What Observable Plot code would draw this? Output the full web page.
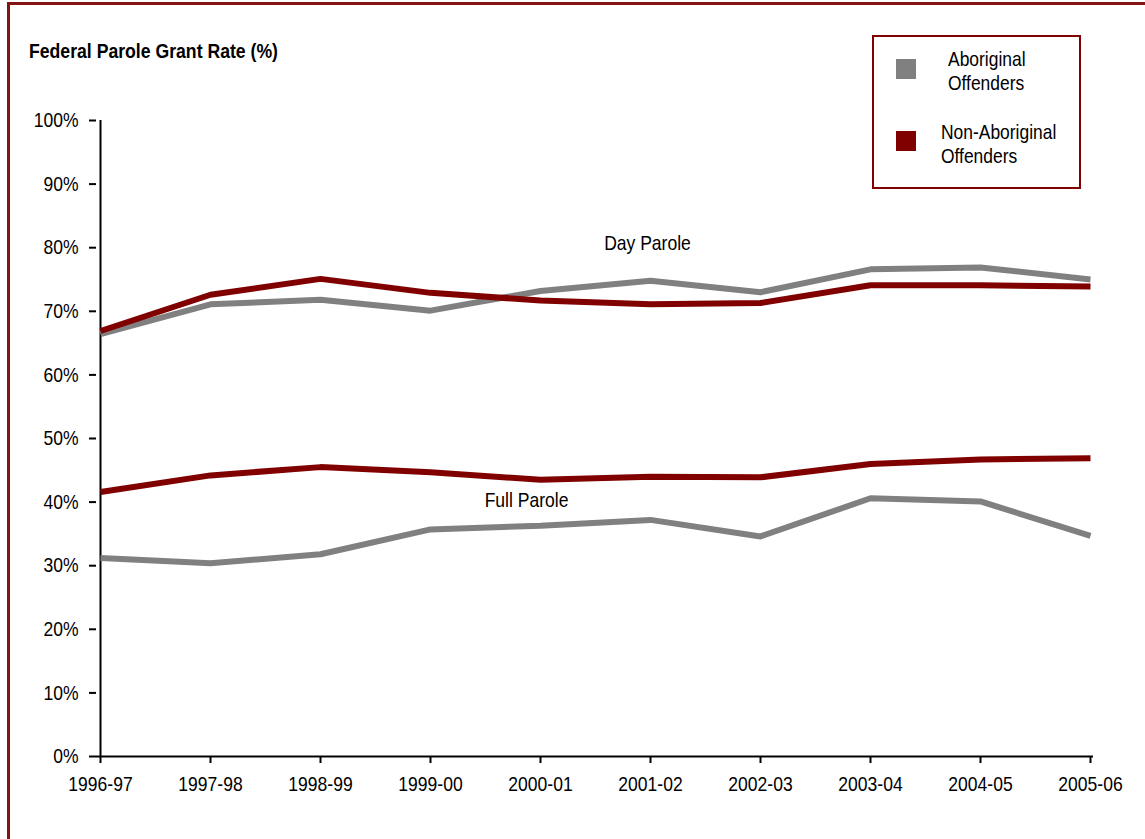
<!DOCTYPE html>
<html>
<head>
<meta charset="utf-8">
<script src="https://cdn.jsdelivr.net/npm/d3@7"></script>
<script src="https://cdn.jsdelivr.net/npm/@observablehq/plot@0.6"></script>
<style>
  html, body { margin: 0; padding: 0; background: #fff; overflow: hidden; }
  body { width: 1145px; height: 839px; position: relative;
         font-family: "Liberation Sans", Arial, sans-serif; color: #000; }
  #frame { position: absolute; left: 7px; top: 2px; width: 1160px; height: 900px; border: 3px solid #841414; box-sizing: border-box; }
  #title { position: absolute; left: 29px; top: 40px; font-size: 21px; line-height: 21px; font-weight: bold; white-space: nowrap;
           transform: scaleX(0.84); transform-origin: 0 0; }
  #legend { position: absolute; left: 872px; top: 35px; width: 209px; height: 154px; border: 2px solid #800000; box-sizing: border-box; background: #fff; }
  .sw { position: absolute; width: 20px; height: 20px; }
  .lt { position: absolute; font-size: 21px; line-height: 24px; white-space: nowrap; transform: scaleX(0.83); transform-origin: 0 0; }
  #chart { position: absolute; left: 0; top: 0; }
</style>
</head>
<body>
<div id="frame"></div>
<div id="chart"></div>
<div id="title">Federal Parole Grant Rate (%)</div>
<div id="legend"></div>
<script>
const years = ["1996-97","1997-98","1998-99","1999-00","2000-01","2001-02","2002-03","2003-04","2004-05","2005-06"];
const aboriginalDay    = [66.4, 71.1, 71.8, 70.1, 73.2, 74.8, 73.0, 76.6, 76.9, 75.0];
const nonAboriginalDay = [66.9, 72.6, 75.1, 72.9, 71.7, 71.1, 71.3, 74.1, 74.1, 73.9];
const aboriginalFull   = [31.2, 30.4, 31.8, 35.7, 36.3, 37.2, 34.6, 40.6, 40.1, 34.7];
const nonAboriginalFull= [41.6, 44.2, 45.5, 44.7, 43.5, 44.0, 43.9, 46.0, 46.7, 46.9];
const yTicks = [0,10,20,30,40,50,60,70,80,90,100];
const seriesNames = ["Aboriginal Offenders", "Non-Aboriginal Offenders"];
const seriesColors = ["#808080", "#800000"];
const annotations = [
  {label: "Day Parole", x: "2001-02", y: 80.7, dx: -3},
  {label: "Full Parole", x: "2000-01", y: 40.3, dx: -14}
];

const rows = [];
const add = (arr, group, kind) => arr.forEach((v, i) => rows.push({year: years[i], value: v, group, kind, key: group + "|" + kind}));
add(aboriginalDay, seriesNames[0], "Day");
add(nonAboriginalDay, seriesNames[1], "Day");
add(aboriginalFull, seriesNames[0], "Full");
add(nonAboriginalFull, seriesNames[1], "Full");

const font = '"Liberation Sans", Arial, sans-serif';

const chart = Plot.plot({
  width: 1145,
  height: 839,
  marginLeft: 96,
  marginRight: 52,
  marginTop: 120,
  marginBottom: 83,
  style: {fontFamily: font, fontSize: "21px", color: "#000", background: "transparent"},
  x: {type: "point", domain: years, padding: 0},
  y: {domain: [0, 100]},
  color: {domain: seriesNames, range: seriesColors},
  marks: [
    Plot.axisY({ticks: yTicks, tickFormat: d => d + "%", tickSize: 7, tickPadding: 11, label: null, stroke: "#000", strokeWidth: 2, strokeOpacity: 1, fontSize: 21, fill: "#000"}),
    Plot.axisX({tickSize: 7, tickPadding: 13, label: null, stroke: "#000", strokeWidth: 2, strokeOpacity: 1, fontSize: 21, fill: "#000"}),
    Plot.ruleX([years[0]], {y1: 0, y2: 100, stroke: "#000", strokeWidth: 2}),
    Plot.ruleY([0], {stroke: "#000", strokeWidth: 2}),
    Plot.line(rows.filter(d => d.group === seriesNames[0]), {x: "year", y: "value", z: "key", stroke: "group", strokeWidth: 6, strokeLinejoin: "miter", strokeLinecap: "butt"}),
    Plot.line(rows.filter(d => d.group === seriesNames[1]), {x: "year", y: "value", z: "key", stroke: "group", strokeWidth: 6, strokeLinejoin: "miter", strokeLinecap: "butt"}),
    ...annotations.map(a => Plot.text([a], {x: "x", y: "y", text: "label", dx: a.dx, fontSize: 21, fill: "#000"}))
  ]
});
document.getElementById("chart").appendChild(chart);

// condense SVG text horizontally about its anchor point (Arial-Narrow-like)
const S = 0.835;
chart.querySelectorAll("text").forEach(t => {
  const x = parseFloat(t.getAttribute("x")) || 0;
  const tr = t.getAttribute("transform") || "";
  t.setAttribute("transform", `${tr} translate(${x},0) scale(${S},1) translate(${-x},0)`.trim());
});

// legend
const legend = document.getElementById("legend");
const legendItems = [
  {color: seriesColors[0], lines: ["Aboriginal", "Offenders"], swTop: 22, textLeft: 74, textTop: 10},
  {color: seriesColors[1], lines: ["Non-Aboriginal", "Offenders"], swTop: 94, textLeft: 67, textTop: 83}
];
legendItems.forEach(it => {
  const sw = document.createElement("div");
  sw.className = "sw";
  sw.style.left = "22px"; sw.style.top = it.swTop + "px"; sw.style.background = it.color;
  legend.appendChild(sw);
  const t = document.createElement("div");
  t.className = "lt";
  t.style.left = it.textLeft + "px"; t.style.top = it.textTop + "px";
  t.innerHTML = it.lines.join("<br>");
  legend.appendChild(t);
});
</script>
</body>
</html>
